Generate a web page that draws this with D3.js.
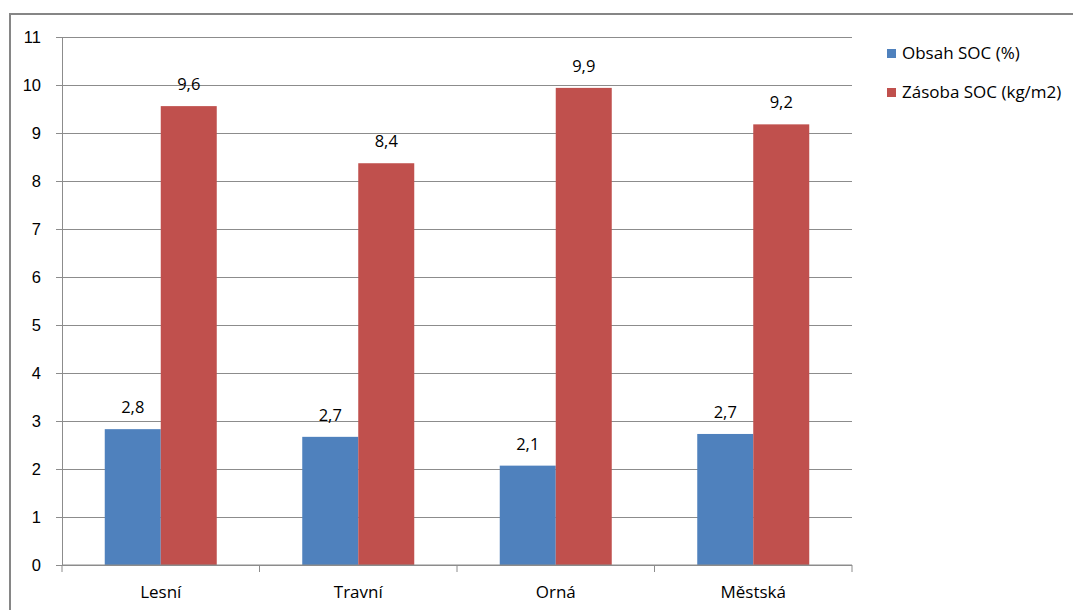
<!DOCTYPE html>
<html>
<head>
<meta charset="utf-8">
<script src="https://cdn.jsdelivr.net/npm/d3@7"></script>
<style>
  body { margin: 0; background: #fff; }
  svg { display: block; font-family: "Open Sans", "Liberation Sans", sans-serif; }
  .tick text { font-size: 16.5px; fill: #000; }
</style>
</head>
<body>
<div id="chart"></div>
<script>
// data
const categories = ["Lesní", "Travní", "Orná", "Městská"];
const seriesNames = ["Obsah SOC (%)", "Zásoba SOC (kg/m2)"];
const obsahSOC = [2.83, 2.67, 2.07, 2.73];
const zasobaSOC = [9.56, 8.37, 9.94, 9.18];
const yTicks = [0, 1, 2, 3, 4, 5, 6, 7, 8, 9, 10, 11];
const colors = ["#4f81bd", "#c0504d"];

const W = 1073, H = 610;
const margin = {top: 37, right: 220, bottom: 45, left: 62},
      width = 852 - margin.left,
      height = 565 - margin.top;

const svg = d3.select("#chart").append("svg")
    .attr("width", W)
    .attr("height", H);

// outer frame
svg.append("rect")
    .attr("x", 10).attr("y", 14)
    .attr("width", W + 20).attr("height", H + 20)
    .attr("fill", "none")
    .attr("stroke", "#868686")
    .attr("stroke-width", 2);

const g = svg.append("g")
    .attr("transform", `translate(${margin.left},${margin.top})`);

const x0 = d3.scaleBand().domain(categories).range([0, width]).padding(0);
const groupW = x0.bandwidth() * 112 / 197.5;
const x1 = d3.scaleBand().domain(seriesNames)
    .range([(x0.bandwidth() - groupW) / 2, (x0.bandwidth() + groupW) / 2]);
const y = d3.scaleLinear().domain([0, 11]).range([height, 0]);

// gridlines
g.append("g")
    .call(d3.axisLeft(y).tickValues(yTicks).tickSize(-width).tickFormat(""))
    .call(a => a.select(".domain").remove())
    .call(a => a.selectAll("line").attr("stroke", "#8c8c8c").attr("stroke-width", 1));

// bars
const rows = categories.map((c, i) => ({cat: c, vals: [obsahSOC[i], zasobaSOC[i]]}));
const grp = g.selectAll(".grp").data(rows).enter().append("g")
    .attr("transform", d => `translate(${x0(d.cat)},0)`);

grp.selectAll("rect")
    .data(d => d.vals.map((v, j) => ({name: seriesNames[j], v: v, j: j})))
    .enter().append("rect")
    .attr("x", d => x1(d.name))
    .attr("y", d => y(d.v))
    .attr("width", x1.bandwidth())
    .attr("height", d => height - y(d.v))
    .attr("fill", d => colors[d.j]);

grp.selectAll(".lbl")
    .data(d => d.vals.map((v, j) => ({name: seriesNames[j], v: v})))
    .enter().append("text")
    .attr("class", "lbl")
    .attr("x", d => x1(d.name) + x1.bandwidth() / 2)
    .attr("y", d => y(d.v) - 16)
    .attr("text-anchor", "middle")
    .style("font-size", "16.5px")
    .text(d => d3.format(".1f")(d.v).replace(".", ","));

// y axis
g.append("g")
    .call(d3.axisLeft(y).tickValues(yTicks).tickSize(6).tickPadding(15))
    .call(a => a.select(".domain").attr("stroke", "#8c8c8c"))
    .call(a => a.selectAll("line").attr("stroke", "#8c8c8c"));

// x axis
const xb = g.append("g").attr("transform", `translate(0,${height})`);
xb.append("line").attr("x1", 0).attr("x2", width).attr("stroke", "#8c8c8c");
xb.selectAll(".xt").data(d3.range(categories.length + 1)).enter().append("line")
    .attr("x1", i => i * x0.step()).attr("x2", i => i * x0.step())
    .attr("y1", 0).attr("y2", 7)
    .attr("stroke", "#8c8c8c");
xb.selectAll(".xl").data(categories).enter().append("text")
    .attr("x", d => x0(d) + x0.bandwidth() / 2)
    .attr("y", 33)
    .attr("text-anchor", "middle")
    .style("font-size", "17px")
    .text(d => d);

// legend
const legend = svg.selectAll(".legend").data(seriesNames).enter().append("g")
    .attr("transform", (d, i) => `translate(887,${49 + i * 39})`);
legend.append("rect").attr("width", 9).attr("height", 9).attr("fill", (d, i) => colors[i]);
legend.append("text").attr("x", 15).attr("y", 10)
    .style("font-size", "17px").text(d => d);
</script>
</body>
</html>
